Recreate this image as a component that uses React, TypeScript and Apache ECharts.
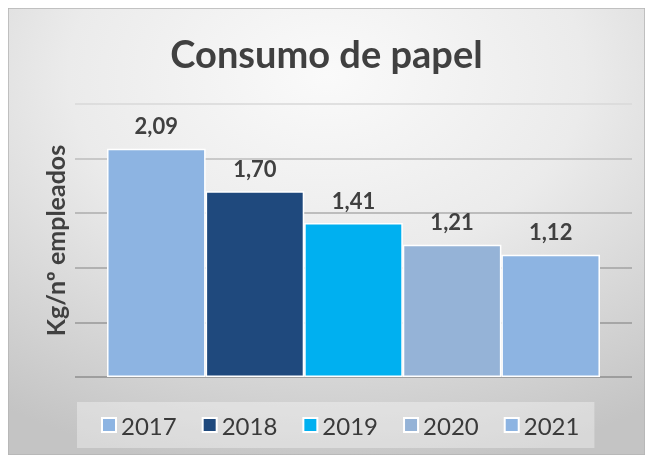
import React, { useEffect, useRef } from "react";
import * as echarts from "echarts";

const years = ["2017", "2018", "2019", "2020", "2021"];
const values = [2.09, 1.7, 1.41, 1.21, 1.12];
const barColors = ["#8DB4E2", "#1F497D", "#00B0F0", "#95B3D7", "#8DB4E2"];
const gridLineColors = ["#8e8e8e", "#979797", "#a2a2a2", "#adadad", "#bcbcbc", "#d8d8d8"];

const FONT = "Lato, 'Open Sans', sans-serif";

export default function App() {
  const ref = useRef<HTMLDivElement>(null);

  useEffect(() => {
    if (!ref.current) return;
    const chart = echarts.init(ref.current, null, { renderer: "svg" });
    const W = 637;
    const H = 447;

    const series = years.map((y, i) => ({
      type: "bar",
      name: y,
      data: [values[i]],
      barGap: "0%",
      barCategoryGap: "11.5%",
      itemStyle: { color: barColors[i], borderColor: "#ffffff", borderWidth: 1.5 },
      label: {
        show: true,
        position: "top",
        distance: 12,
        fontFamily: FONT,
        fontSize: 22,
        fontWeight: "bold",
        color: "#404040",
        formatter: (p: any) => Number(p.value).toFixed(2).replace(".", ","),
      },
    }));

    chart.setOption({
      animation: false,
      graphic: [
        {
          type: "rect",
          z: -100,
          silent: true,
          shape: { x: 0, y: 0, width: W, height: H },
          style: {
            fill: {
              type: "radial",
              x: 0.5,
              y: 0.15,
              r: 0.9,
              colorStops: [
                { offset: 0, color: "#fafafa" },
                { offset: 0.45, color: "#ebebeb" },
                { offset: 1, color: "#c4c4c4" },
              ],
            },
            stroke: "#b4b4b4",
            lineWidth: 1.5,
          },
        },
      ],
      title: {
        text: "Consumo de papel",
        left: "center",
        top: 26,
        padding: [0, 0, 0, 12],
        textStyle: { fontFamily: FONT, fontSize: 38, fontWeight: "bold", color: "#404040" },
      },
      legend: {
        data: years,
        left: 69,
        top: 394,
        padding: [11, 15, 11, 24],
        backgroundColor: "rgba(255,255,255,0.35)",
        icon: "rect",
        itemWidth: 14,
        itemHeight: 14,
        itemGap: 25,
        textStyle: { fontFamily: FONT, fontSize: 24, color: "#3a3a3a" },
      },
      grid: { left: 67, right: 13, top: 96, bottom: 78, containLabel: false },
      xAxis: {
        type: "category",
        data: [""],
        axisLine: { show: false },
        axisTick: { show: false },
        axisLabel: { show: false },
      },
      yAxis: {
        type: "value",
        min: 0,
        max: 2.5,
        interval: 0.5,
        axisLabel: { show: false },
        axisLine: { show: false },
        axisTick: { show: false },
        splitLine: { show: true, lineStyle: { color: gridLineColors, width: 1.5 } },
        name: "Kg/nº empleados",
        nameLocation: "middle",
        nameRotate: 90,
        nameGap: 8,
        nameTextStyle: { fontFamily: FONT, fontSize: 25, fontWeight: "bold", color: "#404040" },
      },
      series,
    });

    return () => chart.dispose();
  }, []);

  return (
    <div
      ref={ref}
      style={{ position: "fixed", left: 8, top: 8, width: 637, height: 447 }}
    />
  );
}
